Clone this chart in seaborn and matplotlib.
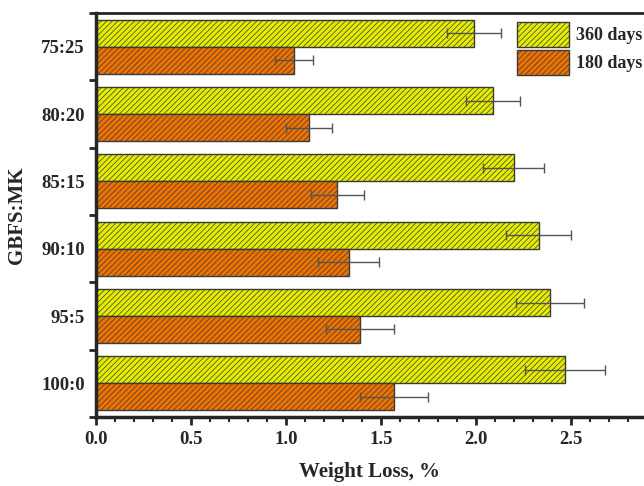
import pandas as pd
import matplotlib.pyplot as plt
import seaborn as sns
from matplotlib.ticker import MultipleLocator, FixedLocator

# Data
ratios = ['75:25', '80:20', '85:15', '90:10', '95:5', '100:0']
loss_360 = [1.99, 2.09, 2.20, 2.33, 2.39, 2.47]
err_360 = [0.14, 0.14, 0.16, 0.17, 0.18, 0.21]
loss_180 = [1.04, 1.12, 1.27, 1.33, 1.39, 1.57]
err_180 = [0.10, 0.12, 0.14, 0.16, 0.18, 0.18]
ages = ['360 days', '180 days']

PALETTE = {'360 days': '#E4EC00', '180 days': '#EE7200'}

df = pd.DataFrame({
    'Ratio': ratios * 2,
    'Loss': loss_360 + loss_180,
    'Err': err_360 + err_180,
    'Age': [ages[0]] * len(ratios) + [ages[1]] * len(ratios),
})

sns.set_theme(style="ticks")
plt.rcParams['font.family'] = ['Liberation Serif', 'DejaVu Serif']
plt.rcParams['font.weight'] = 'bold'
plt.rcParams['hatch.linewidth'] = 0.5

fig = plt.figure(figsize=(6.44, 4.86), dpi=100)
ax = fig.add_axes([0.149, 0.142, 0.851, 0.831])

sns.barplot(
    data=df, y='Ratio', x='Loss', hue='Age', order=ratios, hue_order=ages,
    palette=PALETTE, saturation=1, orient='h', width=0.8, ax=ax, errorbar=None,
    edgecolor='#3a3a3a', linewidth=1.0
)

# hatching + error bars per series
for container, age in zip(ax.containers, ages):
    errs = df.loc[df['Age'] == age, 'Err'].tolist()
    vals = df.loc[df['Age'] == age, 'Loss'].tolist()
    ys = []
    for bar in container:
        bar.set_hatch('//////')
        bar.set_edgecolor('#3a3a3a')
        ys.append(bar.get_y() + bar.get_height() / 2)
    ax.errorbar(vals, ys, xerr=errs, fmt='none', ecolor='#555555',
                elinewidth=1.0, capsize=3.5, capthick=1.0)

ax.set_xlim(0, 2.885)
ax.set_ylim(5.5, -0.5)
ax.xaxis.set_major_locator(MultipleLocator(0.5))
ax.xaxis.set_minor_locator(MultipleLocator(0.1))
ax.yaxis.set_minor_locator(FixedLocator([i + 0.5 for i in range(-1, len(ratios))]))

ax.tick_params(axis='x', which='major', length=6, width=2, labelsize=13.5, pad=4)
ax.tick_params(axis='x', which='minor', length=3.5, width=1.5)
ax.tick_params(axis='y', which='major', length=0, labelsize=13.5, pad=8)
ax.tick_params(axis='y', which='minor', length=5, width=2)

for side in ['left', 'bottom']:
    ax.spines[side].set_linewidth(2.5)
ax.spines['top'].set_linewidth(2)
ax.spines['right'].set_visible(False)

ax.set_xlabel('Weight Loss, %', fontsize=15, fontweight='bold', labelpad=10)
ax.set_ylabel('GBFS:MK', fontsize=15, fontweight='bold', labelpad=10)

leg = ax.legend(loc='upper left', bbox_to_anchor=(0.768, 0.978), frameon=False,
                handlelength=2.9, handleheight=1.75, labelspacing=0.15,
                handletextpad=0.4, borderpad=0, borderaxespad=0,
                prop={'weight': 'bold', 'size': 13})
for handle in leg.legend_handles:
    handle.set_hatch('//////')
    handle.set_edgecolor('#3a3a3a')
    handle.set_linewidth(1.0)

fig.savefig('out.png', dpi=100)
